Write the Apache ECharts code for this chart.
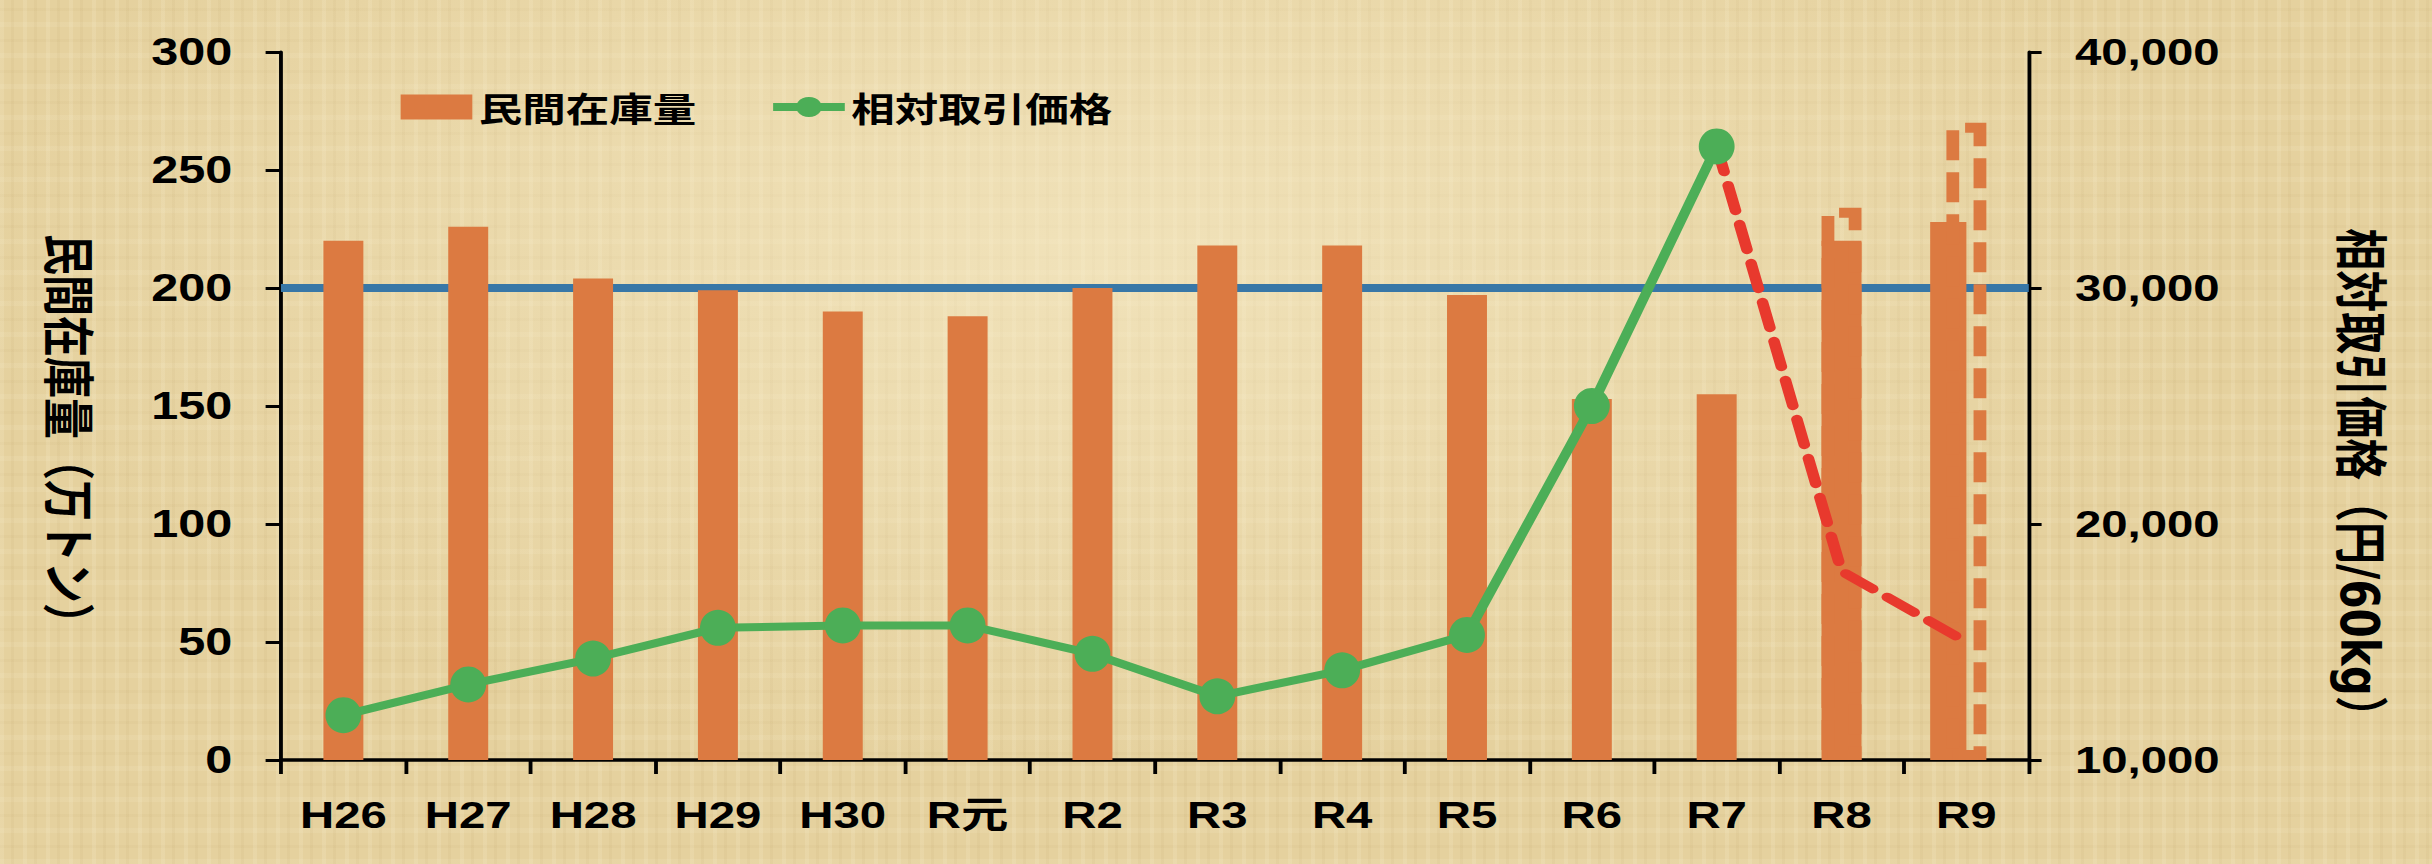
<!DOCTYPE html>
<html>
<head>
<meta charset="utf-8">
<script src="https://cdn.jsdelivr.net/npm/echarts@6/dist/echarts.min.js"></script>
<style>
html, body { margin: 0; padding: 0; width: 2432px; height: 864px; overflow: hidden; }
body {
  background-color: #e5d19e;
  background-image:
    radial-gradient(ellipse at 45% 30%, rgba(250,240,208,0.55), rgba(250,240,208,0) 60%),
    repeating-linear-gradient(90deg, rgba(255,248,222,0.14) 0px, rgba(255,248,222,0.14) 4px, rgba(0,0,0,0) 4px, rgba(0,0,0,0) 11px, rgba(150,115,50,0.05) 11px, rgba(150,115,50,0.05) 14px, rgba(0,0,0,0) 14px, rgba(0,0,0,0) 23px),
    repeating-linear-gradient(0deg, rgba(255,248,222,0.10) 0px, rgba(255,248,222,0.10) 5px, rgba(0,0,0,0) 5px, rgba(0,0,0,0) 16px, rgba(150,115,50,0.04) 16px, rgba(150,115,50,0.04) 19px, rgba(0,0,0,0) 19px, rgba(0,0,0,0) 31px);
}
#chart { width: 1900px; height: 864px; transform: scaleX(1.28); transform-origin: 0 0; }
</style>
</head>
<body>
<div id="chart"></div>
<script>
// ---- data ----
const categories = ['H26', 'H27', 'H28', 'H29', 'H30', 'R元', 'R2', 'R3', 'R4', 'R5', 'R6', 'R7', 'R8', 'R9'];
const inventory = [220, 226, 204, 199, 190, 188, 200, 218, 218, 197, 153, 155, 220, 228];
const inventoryOutlook = [null, null, null, null, null, null, null, null, null, null, null, null, 234, 270];
const prices = [11900, 13200, 14300, 15600, 15700, 15700, 14500, 12700, 13800, 15300, 25000, 36000, null, null];
const priceOutlook = [null, null, null, null, null, null, null, null, null, null, null, 36000, 18000, 15000];
const referenceLevel = 200;
const leftAxisTicks = [0, 50, 100, 150, 200, 250, 300];
const rightAxisTicks = [10000, 20000, 30000, 40000];
const offsetCategory = 'R9';
const legendNames = ['民間在庫量', '相対取引価格'];
const leftTitle = '民間在庫量（万トン）';
const rightTitle = '相対取引価格（円/60kg）';

// ---- styles ----
const ORANGE = '#dc7a41';
const GREEN = '#4cae57';
const RED = '#e8392d';
const BLUE = '#3877a7';
const LATIN = '"Liberation Sans", Arial, "Noto Sans CJK JP", sans-serif';
const WIDE = '"DejaVu Sans", "Noto Sans CJK JP", sans-serif';
const CJK = '"Noto Sans CJK JP", "Liberation Sans", sans-serif';

const offsetIndex = categories.indexOf(offsetCategory);
const mainBars = inventory.map((v, i) => (i === offsetIndex ? null : v));
const offsetBars = [[offsetIndex, inventory[offsetIndex]]];

const chart = echarts.init(document.getElementById('chart'), null, { renderer: 'svg' });

chart.setOption({
  animation: false,
  backgroundColor: 'transparent',
  grid: { left: 219.5, right: 315, top: 52, bottom: 104, containLabel: false },
  legend: {
    data: [{ name: legendNames[0], icon: 'rect' }, { name: legendNames[1] }],
    left: 313, top: 90, padding: 0,
    itemWidth: 56, itemHeight: 25, itemGap: 56,
    selectedMode: false,
    lineStyle: { width: 8 },
    textStyle: { fontSize: 34, fontWeight: 'bold', color: '#000', fontFamily: CJK }
  },
  xAxis: {
    type: 'category',
    data: categories,
    boundaryGap: true,
    axisLine: { lineStyle: { color: '#000', width: 3.5 } },
    axisTick: { show: true, length: 14, lineStyle: { color: '#000', width: 3 } },
    axisLabel: { fontSize: 37, fontWeight: 'bold', color: '#000', margin: 37, fontFamily: LATIN },
    splitLine: { show: false }
  },
  yAxis: [
    {
      type: 'value', position: 'left',
      min: leftAxisTicks[0], max: leftAxisTicks[leftAxisTicks.length - 1],
      interval: leftAxisTicks[1] - leftAxisTicks[0],
      axisLine: { show: true, lineStyle: { color: '#000', width: 3 } },
      axisTick: { show: true, length: 12, lineStyle: { color: '#000', width: 3 } },
      axisLabel: { fontSize: 38, fontWeight: 'bold', color: '#000', margin: 38, fontFamily: LATIN },
      splitLine: { show: false }
    },
    {
      type: 'value', position: 'right',
      min: rightAxisTicks[0], max: rightAxisTicks[rightAxisTicks.length - 1],
      interval: rightAxisTicks[1] - rightAxisTicks[0],
      axisLine: { show: true, lineStyle: { color: '#000', width: 3 } },
      axisTick: { show: true, length: 10, lineStyle: { color: '#000', width: 3 } },
      axisLabel: {
        fontSize: 37, fontWeight: 'bold', color: '#000', margin: 36, fontFamily: LATIN,
        formatter: v => v.toLocaleString('en-US')
      },
      splitLine: { show: false }
    }
  ],
  graphic: [
    {
      type: 'text', x: 56, y: 439, rotation: -Math.PI / 2, silent: true,
      style: {
        text: leftTitle, font: 'bold 41px ' + CJK, fill: '#000',
        align: 'center', verticalAlign: 'middle', textAlign: 'center', textVerticalAlign: 'middle'
      }
    },
    {
      type: 'text', x: 1844, y: 483, rotation: -Math.PI / 2, silent: true,
      style: {
        text: rightTitle, font: 'bold 42px ' + WIDE, fill: '#000',
        align: 'center', verticalAlign: 'middle', textAlign: 'center', textVerticalAlign: 'middle'
      }
    }
  ],
  series: [
    {
      name: legendNames[0], type: 'bar', yAxisIndex: 0,
      data: mainBars, barWidth: '32%', barGap: '-100%', z: 2,
      itemStyle: { color: ORANGE },
      emphasis: { disabled: true },
      markLine: {
        silent: true, symbol: 'none', z: 1, animation: false,
        label: { show: false },
        lineStyle: { color: BLUE, width: 8, type: 'solid' },
        data: [{ yAxis: referenceLevel }]
      }
    },
    {
      name: '見通し', type: 'bar', yAxisIndex: 0,
      data: inventoryOutlook, barWidth: '32%', barGap: '-100%', z: 3,
      itemStyle: {
        color: 'rgba(0,0,0,0)', borderColor: ORANGE, borderWidth: 10,
        borderType: [30, 12]
      },
      emphasis: { disabled: true }
    },
    {
      name: '見通し在庫', type: 'custom', yAxisIndex: 0, z: 2,
      data: offsetBars,
      encode: { x: 0, y: 1 },
      renderItem: function (params, api) {
        const top = api.coord([api.value(0), api.value(1)]);
        const base = api.coord([api.value(0), 0]);
        const band = api.size([1, 0])[0];
        const w = band * 0.29;
        const cx = top[0] - band * 0.145;
        return {
          type: 'rect',
          shape: { x: cx - w / 2, y: top[1], width: w, height: base[1] - top[1] },
          style: { fill: ORANGE }
        };
      }
    },
    {
      name: '相対取引価格見通し', type: 'line', yAxisIndex: 1,
      data: priceOutlook, z: 4,
      symbol: 'none', showSymbol: false,
      lineStyle: { color: RED, width: 9, type: [26, 14], cap: 'round' },
      emphasis: { disabled: true }
    },
    {
      name: legendNames[1], type: 'line', yAxisIndex: 1,
      data: prices, z: 5,
      symbol: 'circle', symbolSize: [28, 36],
      itemStyle: { color: GREEN },
      lineStyle: { color: GREEN, width: 8 },
      emphasis: { disabled: true }
    }
  ]
});
</script>
</body>
</html>
